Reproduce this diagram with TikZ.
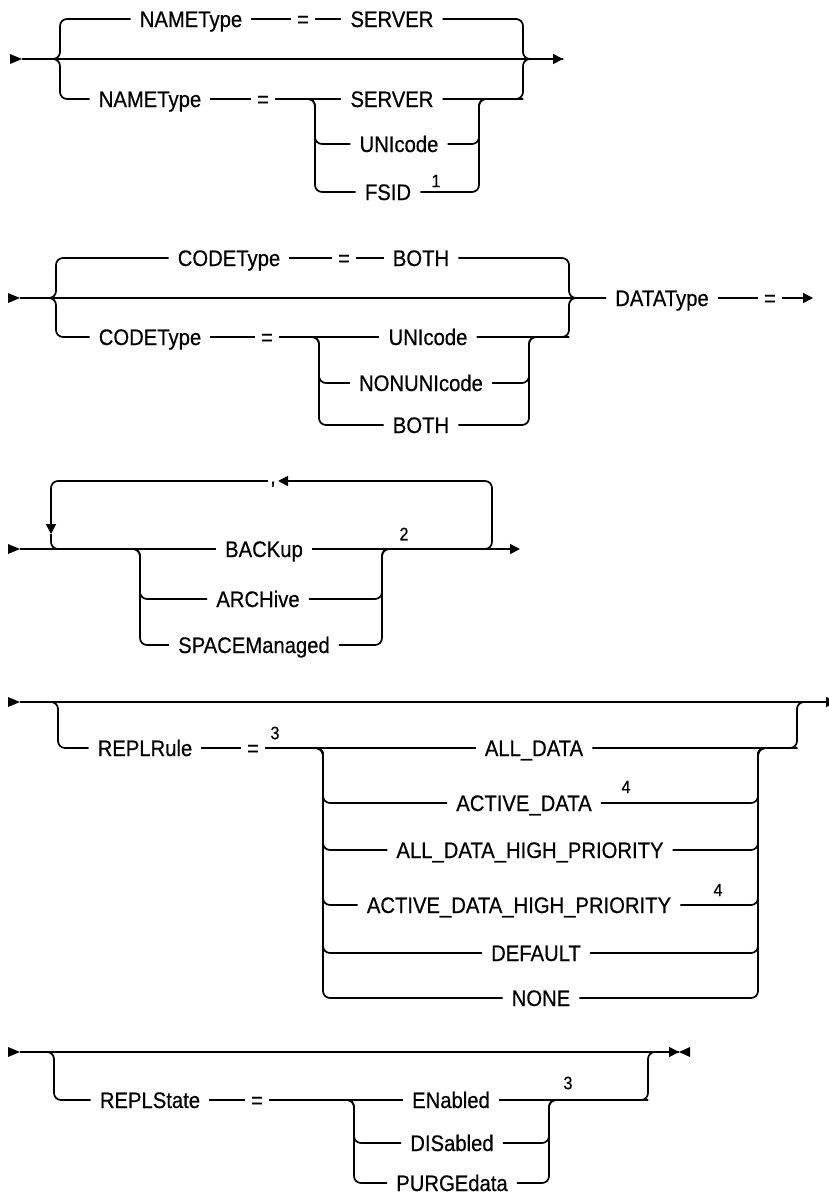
\documentclass[tikz,border=0pt]{standalone}
\usepackage{fontspec}
\setmainfont{Liberation Sans}[FakeStretch=0.9, FakeBold=0.5]
\usepackage{tikz}
\usetikzlibrary{arrows.meta, positioning, calc}

\newcommand{\railstart}[1]{\fill (#1) -- ++(-12,-5) -- ++(0,10) -- cycle;}
\newcommand{\railstop}[1]{\fill (#1) -- ++(11,-5) -- ++(0,10) -- cycle;}

\begin{document}
\begin{tikzpicture}[
    x=1pt, y=-1pt,
    rail/.style={line width=1.7pt, rounded corners=7pt},
    kw/.style={font=\fontsize{22.5}{26}\selectfont, inner xsep=9pt, inner ysep=0pt, text height=16pt, text depth=0pt},
    eqsign/.style={kw, inner xsep=6pt},
    note/.style={font=\fontsize{18}{21}\selectfont, inner sep=0pt},
    sep/.style={font=\fontsize{22.5}{26}\selectfont, inner xsep=2pt, inner ysep=0pt, text height=6pt, text depth=0pt},
    arrow/.style={-{Triangle[length=10pt,width=10pt]}},
]
\useasboundingbox (0,0) rectangle (829,1194);
% Part 1 - NAMEType
\coordinate (a1) at (22,59);
\coordinate (z1) at (563,59);
\coordinate (bl1) at (60,59);
\coordinate (br1) at (523,59);
\coordinate (il1) at (315,99);
\coordinate (ir1) at (479,99);
\node[kw] (n1a) at (191,19) {NAMEType};
\node[eqsign] (q1a) at (303,19) {=};
\node[kw] (s1a) at (392,19) {SERVER};
\node[kw] (n1b) at (150,99) {NAMEType};
\node[eqsign] (q1b) at (263,99) {=};
\node[kw] (s1b) at (392,99) {SERVER};
\node[kw] (u1) at (399,144) {UNIcode};
\node[kw] (f1) at (388,192) {FSID};
\node[note] (m1) at (436,181) {1};
\railstart{a1}
\draw[rail, arrow] (a1) -- (z1);
\draw[rail] (a1) -| (bl1 |- n1a.west) -- (n1a.west);
\draw[rail] (n1a.east) -- (q1a.west);
\draw[rail] (q1a.east) -- (s1a.west);
\draw[rail] (s1a.east) -| (br1) -- (z1);
\draw[rail] (a1) -| (bl1 |- n1b.west) -- (n1b.west);
\draw[rail] (n1b.east) -- (q1b.west);
\draw[rail] (q1b.east) -- (s1b.west);
\draw[rail] (s1b.east) -| (br1) -- (z1);
\draw[rail] (q1b.east) -| (il1 |- u1.west) -- (u1.west);
\draw[rail] (q1b.east) -| (il1 |- f1.west) -- (f1.west);
\draw[rail] (u1.east) -| (ir1) -- (br1 |- ir1);
\draw[rail] (f1.east) -| (ir1) -- (br1 |- ir1);
% Part 2 - CODEType and DATAType
\coordinate (a2) at (20,298);
\coordinate (z2) at (813,298);
\coordinate (bl2) at (56,298);
\coordinate (br2) at (569,298);
\coordinate (il2) at (319,337);
\coordinate (ir2) at (529,337);
\node[kw] (c2a) at (229,258) {CODEType};
\node[eqsign] (q2a) at (344,258) {=};
\node[kw] (b2a) at (421,258) {BOTH};
\node[kw] (c2b) at (150,337) {CODEType};
\node[eqsign] (q2b) at (267,337) {=};
\node[kw] (u2) at (428,337) {UNIcode};
\node[kw] (nu2) at (421,383) {NONUNIcode};
\node[kw] (b2b) at (421,425) {BOTH};
\node[kw] (dt2) at (662,298) {DATAType};
\node[eqsign] (q2c) at (770,298) {=};
\railstart{a2}
\draw[rail] (a2) -- (dt2.west);
\draw[rail] (dt2.east) -- (q2c.west);
\draw[rail, arrow] (q2c.east) -- (z2);
\draw[rail] (a2) -| (bl2 |- c2a.west) -- (c2a.west);
\draw[rail] (c2a.east) -- (q2a.west);
\draw[rail] (q2a.east) -- (b2a.west);
\draw[rail] (b2a.east) -| (br2) -- (dt2.west);
\draw[rail] (a2) -| (bl2 |- c2b.west) -- (c2b.west);
\draw[rail] (c2b.east) -- (q2b.west);
\draw[rail] (q2b.east) -- (u2.west);
\draw[rail] (u2.east) -| (br2) -- (dt2.west);
\draw[rail] (q2b.east) -| (il2 |- nu2.west) -- (nu2.west);
\draw[rail] (q2b.east) -| (il2 |- b2b.west) -- (b2b.west);
\draw[rail] (nu2.east) -| (ir2) -- (br2 |- ir2);
\draw[rail] (b2b.east) -| (ir2) -- (br2 |- ir2);
% Part 3 - repeated file spaces
\coordinate (a3) at (20,549);
\coordinate (z3) at (520,549);
\coordinate (ll3) at (51,549);
\coordinate (lr3) at (492,549);
\coordinate (il3) at (140,549);
\coordinate (ir3) at (382,549);
\coordinate (dn3) at (51,534);
\node[kw] (bk3) at (264,549) {BACKup};
\node[kw] (ar3) at (258,599) {ARCHive};
\node[kw] (sp3) at (254,645) {SPACEManaged};
\node[note] (m3) at (404,534) {2};
\node[sep] (cm3) at (273,481) {,};
\railstart{a3}
\draw[rail] (a3) -- (bk3.west);
\draw[rail, arrow] (bk3.east) -- (z3);
\draw[rail] (a3) -| (il3 |- ar3.west) -- (ar3.west);
\draw[rail] (a3) -| (il3 |- sp3.west) -- (sp3.west);
\draw[rail] (ar3.east) -| (ir3) -- (lr3);
\draw[rail] (sp3.east) -| (ir3) -- (lr3);
\draw[rail, arrow] (ir3) -| (lr3 |- cm3.east) -- (cm3.east);
\draw[rail, arrow] (cm3.west) -| (dn3);
\draw[rail] (dn3) |- (bk3.west);
% Part 4 - REPLRule
\coordinate (a4) at (20,702);
\coordinate (z4) at (836,702);
\coordinate (bl4) at (58,702);
\coordinate (br4) at (797,702);
\coordinate (il4) at (323,748);
\coordinate (ir4) at (758,748);
\node[kw] (rr4) at (145,748) {REPLRule};
\node[eqsign] (q4) at (253,748) {=};
\node[note] (m4a) at (275,733) {3};
\node[kw] (ad4) at (534,748) {ALL\_DATA};
\node[kw] (ac4) at (524,803) {ACTIVE\_DATA};
\node[note] (m4b) at (626,787) {4};
\node[kw] (ah4) at (530,850) {ALL\_DATA\_HIGH\_PRIORITY};
\node[kw] (ch4) at (519,905) {ACTIVE\_DATA\_HIGH\_PRIORITY};
\node[note] (m4c) at (718,890) {4};
\node[kw] (df4) at (536,953) {DEFAULT};
\node[kw] (nn4) at (541,998) {NONE};
\railstart{a4}
\draw[rail, arrow] (a4) -- (z4);
\draw[rail] (a4) -| (bl4 |- rr4.west) -- (rr4.west);
\draw[rail] (rr4.east) -- (q4.west);
\draw[rail] (q4.east) -- (ad4.west);
\draw[rail] (ad4.east) -| (br4) -- (z4);
\draw[rail] (q4.east) -| (il4 |- ac4.west) -- (ac4.west);
\draw[rail] (q4.east) -| (il4 |- ah4.west) -- (ah4.west);
\draw[rail] (q4.east) -| (il4 |- ch4.west) -- (ch4.west);
\draw[rail] (q4.east) -| (il4 |- df4.west) -- (df4.west);
\draw[rail] (q4.east) -| (il4 |- nn4.west) -- (nn4.west);
\draw[rail] (ac4.east) -| (ir4) -- (br4 |- ir4);
\draw[rail] (ah4.east) -| (ir4) -- (br4 |- ir4);
\draw[rail] (ch4.east) -| (ir4) -- (br4 |- ir4);
\draw[rail] (df4.east) -| (ir4) -- (br4 |- ir4);
\draw[rail] (nn4.east) -| (ir4) -- (br4 |- ir4);
% Part 5 - REPLState
\coordinate (a5) at (20,1052);
\coordinate (z5) at (679,1052);
\coordinate (bl5) at (54,1052);
\coordinate (br5) at (648,1052);
\coordinate (il5) at (354,1100);
\coordinate (ir5) at (549,1100);
\node[kw] (rs5) at (150,1100) {REPLState};
\node[eqsign] (q5) at (257,1100) {=};
\node[kw] (en5) at (451,1100) {ENabled};
\node[note] (m5) at (568,1083) {3};
\node[kw] (ds5) at (452,1143) {DISabled};
\node[kw] (pg5) at (452,1183) {PURGEdata};
\railstart{a5}
\draw[rail, arrow] (a5) -- (z5);
\railstop{z5}
\draw[rail] (a5) -| (bl5 |- rs5.west) -- (rs5.west);
\draw[rail] (rs5.east) -- (q5.west);
\draw[rail] (q5.east) -- (en5.west);
\draw[rail] (en5.east) -| (br5) -- (z5);
\draw[rail] (q5.east) -| (il5 |- ds5.west) -- (ds5.west);
\draw[rail] (q5.east) -| (il5 |- pg5.west) -- (pg5.west);
\draw[rail] (ds5.east) -| (ir5) -- (br5 |- ir5);
\draw[rail] (pg5.east) -| (ir5) -- (br5 |- ir5);
\end{tikzpicture}
\end{document}
